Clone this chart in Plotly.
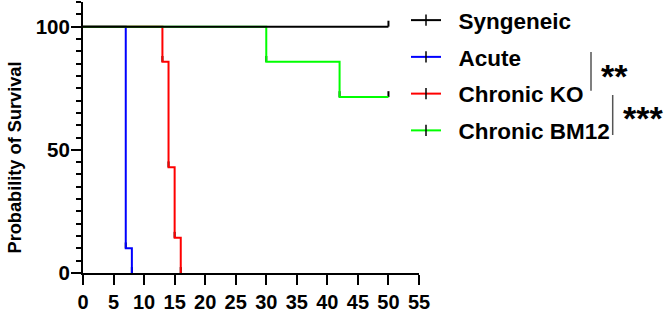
import plotly.graph_objects as go

# ---- data ----
series_names = ["Syngeneic", "Acute", "Chronic KO", "Chronic BM12"]
syngeneic_days = [0, 50]
syngeneic_surv = [100, 100]
acute_days = [0, 7, 8]
acute_surv = [100, 10, 0]
chronic_ko_days = [0, 13, 14, 15, 16]
chronic_ko_surv = [100, 85.7, 42.9, 14.3, 0]
chronic_bm12_days = [0, 30, 42, 50]
chronic_bm12_surv = [100, 85.7, 71.4, 71.4]
x_ticks = list(range(0, 60, 5))
y_ticks = [0, 50, 100]
sig_labels = ["**", "***"]

colors = {"Syngeneic": "#000000", "Acute": "#0000FF",
          "Chronic KO": "#FF0000", "Chronic BM12": "#00FF00"}
data = {
    "Syngeneic": (syngeneic_days, syngeneic_surv),
    "Acute": (acute_days, acute_surv),
    "Chronic KO": (chronic_ko_days, chronic_ko_surv),
    "Chronic BM12": (chronic_bm12_days, chronic_bm12_surv),
}

FONT = "Liberation Sans, Arial, sans-serif"
TICK_UP = 2.4  # size of the step/censor tick in y units

fig = go.Figure()

# draw order: black on top
for name in ["Acute", "Chronic KO", "Chronic BM12", "Syngeneic"]:
    xs, ys = data[name]
    fig.add_trace(go.Scatter(
        x=xs, y=ys, mode="lines", line=dict(color=colors[name], width=2, shape="hv"),
        showlegend=False, hoverinfo="skip",
        error_y=dict(type="data", symmetric=False,
                     array=[0] + [TICK_UP] * (len(xs) - 1),
                     arrayminus=[0] * len(xs),
                     color="black", thickness=2, width=0),
    ))

# legend-only entries
for i, name in enumerate(series_names):
    fig.add_trace(go.Scatter(
        x=[None], y=[None], mode="lines+markers", name="\u00a0\u00a0" + name,
        line=dict(color=colors[name], width=2),
        marker=dict(symbol="line-ns-open", size=8, color="black",
                    line=dict(color="black", width=1.5)),
        legendgroup="g%d" % i,
    ))

W, H = 668, 312
L, R, T, B = 83, 249, 2, 39
pw, ph = W - L - R, H - T - B

def px_x(px):
    return (px - L) / pw

def px_y(py):
    return (H - B - py) / ph

shapes = [
    dict(type="line", xref="paper", yref="paper", x0=px_x(591), x1=px_x(591),
         y0=px_y(90.7), y1=px_y(52), line=dict(color="#555555", width=1.5)),
    dict(type="line", xref="paper", yref="paper", x0=px_x(612.7), x1=px_x(612.7),
         y0=px_y(135), y1=px_y(95), line=dict(color="#555555", width=1.5)),
]

annotations = [
    dict(text="Probability of Survival", textangle=-90, xref="paper", yref="paper",
         x=px_x(14), y=px_y(157.5), xanchor="center", yanchor="middle", showarrow=False,
         font=dict(family=FONT, size=18.2, color="black", weight="bold")),
    dict(text=sig_labels[0], xref="paper", yref="paper", x=px_x(614), y=px_y(75.5),
         xanchor="center", yanchor="middle", showarrow=False,
         font=dict(family=FONT, size=34, color="black", weight="bold")),
    dict(text=sig_labels[1], xref="paper", yref="paper", x=px_x(643), y=px_y(118),
         xanchor="center", yanchor="middle", showarrow=False,
         font=dict(family=FONT, size=34, color="black", weight="bold")),
]

fig.update_layout(
    width=W, height=H,
    margin=dict(l=L, r=R, t=T, b=B, pad=0, autoexpand=False),
    paper_bgcolor="white", plot_bgcolor="white",
    font=dict(family=FONT, color="black"),
    showlegend=True,
    legend=dict(x=px_x(406), y=px_y(-1), xanchor="left", yanchor="top",
                font=dict(family=FONT, size=22.5, color="black", weight="bold"),
                tracegroupgap=4.5, bgcolor="rgba(0,0,0,0)", borderwidth=0),
    shapes=shapes, annotations=annotations,
    xaxis=dict(range=[0, 55], tickvals=x_ticks, ticks="outside", ticklen=10, tickwidth=2,
               tickcolor="black", showline=True, linewidth=2, linecolor="black",
               showgrid=False, zeroline=False, automargin=False,
               tickfont=dict(family=FONT, size=20, color="black", weight="bold")),
    yaxis=dict(range=[0, 110], tickvals=y_ticks, ticks="outside", ticklen=10, tickwidth=2,
               tickcolor="black", showline=True, linewidth=2, linecolor="black",
               showgrid=False, zeroline=False, automargin=False, ticklabelstandoff=-3,
               minor=dict(dtick=5, ticks="outside", ticklen=5, tickwidth=2, tickcolor="black"),
               tickfont=dict(family=FONT, size=20.5, color="black", weight="bold")),
)

fig.write_html("out.html", config={"displayModeBar": False},
               post_script="document.body.style.margin='0px';document.body.style.padding='0px';")
